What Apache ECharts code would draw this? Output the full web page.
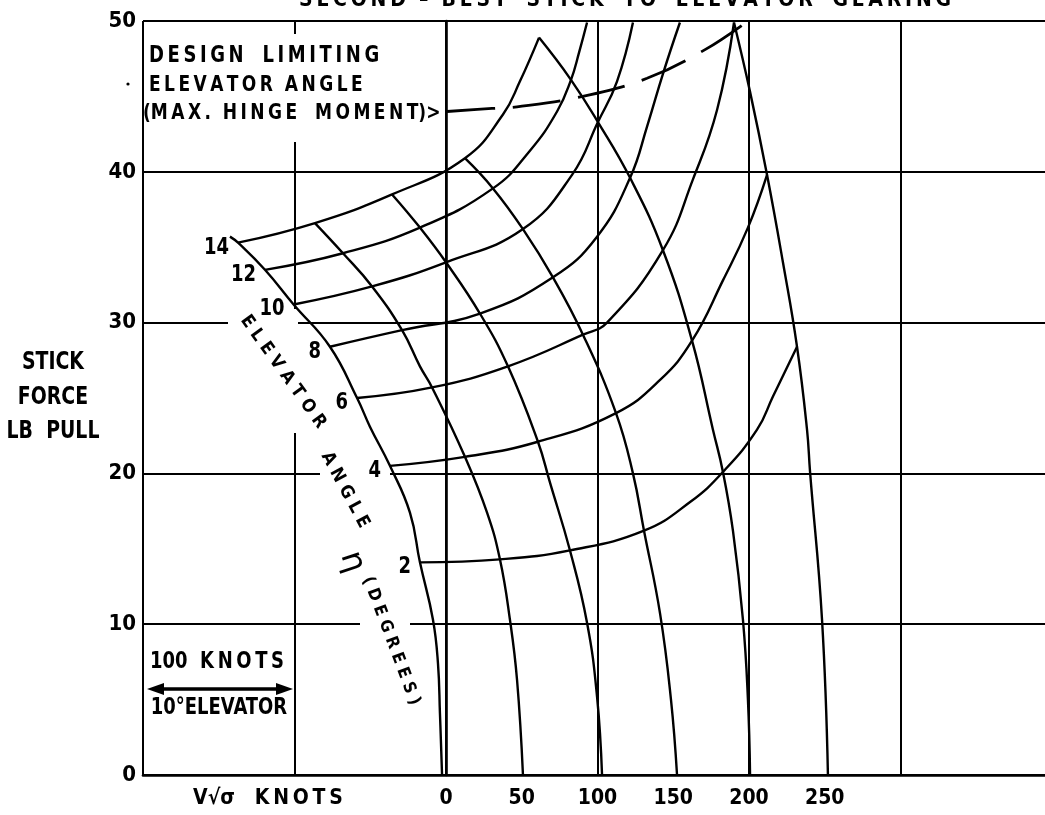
<!DOCTYPE html>
<html><head><meta charset="utf-8">
<script src="https://cdn.jsdelivr.net/npm/echarts@6/dist/echarts.min.js"></script>
<style>html,body{margin:0;padding:0;background:#fff;overflow:hidden;width:1045px;height:815px}#c{width:1060px;height:815px}</style>
</head><body><div id="c"></div>
<script>
// ---- data (x = V√σ knots shifted 10 knots per degree of elevator, y = stick force lb pull) ----
const xTickLabels = [0, 50, 100, 150, 200, 250];
const yTickValues = [0, 10, 20, 30, 40, 50];

// constant speed lines (V√σ knots 0, 50, 100, 150, 200, 250)
const speed0   = [[-142.6,35.7],[-137.3,35.3],[-119.5,33.5],[-100.6,31.2],[-76.6,28.4],[-58.7,25.0],[-50.2,23.1],[-37.0,20.5],[-23.8,17.4],[-17.2,14.1],[-8.6,10.3],[-5.3,7.4],[-4.0,4.1],[-2.6,0]];
const speed50  = [[-86.5,36.6],[-68.0,34.6],[-48.8,32.4],[-29.0,29.5],[-17.2,27.1],[-9.2,25.7],[12.5,21.1],[27.1,17.4],[35.6,14.3],[42.2,10.3],[46.9,6.3],[50.8,0]];
const speed100 = [[-35.6,38.5],[-17.2,36.3],[0,34.0],[22.4,30.6],[40.9,27.1],[60.7,22.1],[68.6,19.4],[81.8,14.9],[93.1,10.1],[99.7,5.2],[103.0,0]];
const speed150 = [[12.5,40.9],[31.0,38.9],[50.8,36.2],[70.6,33.0],[90.4,29.2],[112.2,24.0],[123.4,20.0],[130.7,16.2],[141.3,10.7],[148.5,5.0],[152.5,0]];
const speed200 = [[61.4,48.9],[82.5,46.1],[100.3,43.3],[121.5,39.6],[143.2,34.8],[162.4,28.8],[176.2,22.9],[182.8,20.1],[189.4,16.2],[196.0,10.3],[199.3,5.0],[200.7,0]];
const speed250 = [[190.1,49.9],[200.7,45.3],[211.9,39.8],[222.4,34.0],[231.7,28.4],[238.3,22.9],[240.3,20.1],[248.2,10.3],[252.1,0]];

// constant elevator angle lines (degrees 14 ... 2)
const elevatorLabels = ['14', '12', '10', '8', '6', '4', '2'];
const elev14 = [[-137.3,35.3],[-86.5,36.6],[-35.6,38.5],[12.5,40.9],[37.6,43.8],[48.8,46.0],[61.4,48.9]];
const elev12 = [[-119.5,33.5],[-68.0,34.6],[-17.2,36.3],[31.0,38.9],[55.4,41.4],[73.3,44.0],[82.5,46.1],[87.8,47.9],[93.1,49.9]];
const elev10 = [[-100.6,31.2],[-48.8,32.4],[0,34.0],[50.8,36.2],[83.2,39.8],[100.3,43.3],[112.9,46.0],[123.4,49.9]];
const elev8  = [[-76.6,28.4],[-29.0,29.5],[22.4,30.6],[70.6,33.0],[99.7,35.7],[121.5,39.6],[133.0,43.1],[143.2,46.5],[154.4,49.9]];
const elev6  = [[-58.7,25.0],[-9.2,25.7],[40.9,27.1],[90.4,29.2],[106.3,30.0],[143.2,34.8],[163.0,39.5],[178.9,44.1],[190.1,49.9]];
const elev4  = [[-37.0,20.5],[12.5,21.1],[60.7,22.1],[112.2,24.0],[141.3,26.2],[162.4,28.8],[182.8,32.8],[199.3,36.3],[211.9,39.8]];
const elev2  = [[-17.2,14.1],[35.6,14.3],[81.8,14.9],[130.7,16.2],[161.1,18.1],[182.8,20.1],[205.3,22.9],[215.8,25.1],[231.7,28.4]];

// design limiting elevator angle (max hinge moment)
const limitLine = [[0.7,44.0],[30.4,44.2],[46.9,44.3],[90.4,45.0],[132.7,46.2],[171.0,48.1],[199.3,50.0]];

// ---- chart ----
const FONT = '"DejaVu Sans Condensed", "DejaVu Sans", sans-serif';
const sp = s => s.split('').join('\u2009');
const chart = echarts.init(document.getElementById('c'), null, {renderer: 'canvas'});

function curve(data) {
  return {
    type: 'line', data: data, symbol: 'none', smooth: 0.45, silent: true,
    lineStyle: {color: '#000', width: 2.4}, z: 3
  };
}

const speedSeries = [speed0, speed50, speed100, speed150, speed200, speed250].map(curve);
const elevArrays = [elev14, elev12, elev10, elev8, elev6, elev4, elev2];
const elevSeries = elevArrays.map(curve);
const limitSeries = {
  type: 'line', data: limitLine, symbol: 'none', smooth: 0.4, silent: true, z: 3,
  lineStyle: {color: '#000', width: 2.8, type: [48, 18]}
};

function txt(x, y, s, size, opt, align) {
  return Object.assign({
    type: 'text', x: x, y: y, z: 10, silent: true,
    style: {text: s, fill: '#000', font: 'bold ' + size + 'px ' + FONT,
            textAlign: align || 'center', textVerticalAlign: 'middle'}
  }, opt || {});
}
function gap(x, y, w, h) {
  return {type: 'rect', z: 1, silent: true, shape: {x: x, y: y, width: w, height: h}, style: {fill: '#fff'}};
}
const tall = {scaleY: 1.15};

const graphics = [
  // gaps in the grid around lettering
  gap(289, 34, 9, 108),
  gap(289, 309, 9, 124),
  gap(228, 318, 70, 8),
  gap(320, 469, 70, 8),
  gap(360, 619, 50, 8),
  // title (cut at the top edge)
  txt(625, 1, sp('SECOND') + '  –  ' + sp('BEST') + '   ' + sp('STICK') + '   ' + sp('TO') + '   ' + sp('ELEVATOR') + '   ' + sp('GEARING'), 21),
  // design limit note
  txt(149, 56, sp('DESIGN') + '   ' + sp('LIMITING'), 20, tall, 'left'),
  txt(149, 85, sp('ELEVATOR') + '  ' + sp('ANGLE'), 19, tall, 'left'),
  txt(143, 113, '(' + sp('MAX.') + '  ' + sp('HINGE') + '   ' + sp('MOMENT') + ')>', 19, tall, 'left'),
  // y axis name
  txt(53, 363, 'STICK', 21, tall),
  txt(53, 398, 'FORCE', 21, tall),
  txt(53, 432, 'LB  PULL', 21, tall),
  // x axis name
  txt(268, 799, 'V√σ   ' + sp('KNOTS'), 21),
  // scale key
  txt(217, 662, '100  ' + sp('KNOTS'), 20, tall),
  {type: 'line', z: 10, silent: true, shape: {x1: 156, y1: 689, x2: 284, y2: 689}, style: {stroke: '#000', lineWidth: 3.5}},
  {type: 'polygon', z: 10, silent: true, shape: {points: [[147, 689], [164, 683], [164, 695]]}, style: {fill: '#000'}},
  {type: 'polygon', z: 10, silent: true, shape: {points: [[293, 689], [276, 683], [276, 695]]}, style: {fill: '#000'}},
  txt(219, 708, '10°ELEVATOR', 20, tall),
  // annotation along the zero-speed boundary
  txt(283, 372, 'E L E V A T O R', 18, {rotation: -0.95}),
  txt(345, 490, 'A N G L E', 18, {rotation: -1.08}),
  {type: 'text', x: 352, y: 562, z: 10, silent: true, rotation: -1.25,
   style: {text: 'η', fill: '#000', font: '32px "DejaVu Sans", sans-serif', textAlign: 'center', textVerticalAlign: 'middle'}},
  txt(391, 641, '( D E G R E E S )', 17, {rotation: -1.21}),
  {type: 'circle', z: 10, silent: true, shape: {cx: 128, cy: 84, r: 1.6}, style: {fill: '#000'}}
];

const option = {
  animation: false,
  backgroundColor: '#fff',
  grid: {left: 143, right: 8, top: 21, bottom: 40, containLabel: false},
  xAxis: [{
    type: 'value', min: -200, max: 400, interval: 100,
    axisLine: {show: true, onZero: false, lineStyle: {color: '#000', width: 2.6}},
    axisTick: {show: false}, axisLabel: {show: false},
    splitLine: {show: true, lineStyle: {color: '#000', width: 2}}
  }, {
    type: 'value', min: -200, max: 400, interval: 50, position: 'bottom',
    axisLine: {show: false}, axisTick: {show: false}, splitLine: {show: false},
    axisLabel: {show: true, margin: 13, color: '#000', fontFamily: FONT, fontWeight: 'bold', fontSize: 21,
      formatter: v => xTickLabels.indexOf(v) >= 0 ? String(v) : ''}
  }],
  yAxis: {
    type: 'value', min: 0, max: 50, interval: 10,
    axisLine: {show: true, lineStyle: {color: '#000', width: 2.6}},
    axisTick: {show: true, length: 3, lineStyle: {color: '#000', width: 2}},
    axisLabel: {margin: 7, color: '#000', fontFamily: FONT, fontWeight: 'bold', fontSize: 22,
      formatter: v => yTickValues.indexOf(v) >= 0 ? String(v) : ''},
    splitLine: {show: true, lineStyle: {color: '#000', width: 2}}
  },
  series: speedSeries.concat(elevSeries, [limitSeries]),
  graphic: graphics
};
chart.setOption(option);

// elevator-angle numbers placed at the start of each constant-angle line
const angleLabels = elevArrays.map((d, i) => {
  const p = chart.convertToPixel({xAxisIndex: 0, yAxisIndex: 0}, d[0]);
  return txt(p[0] - 9, p[1] + 5, elevatorLabels[i], 20, tall, 'right');
});
chart.setOption({graphic: graphics.concat(angleLabels)});
</script>
</body></html>
